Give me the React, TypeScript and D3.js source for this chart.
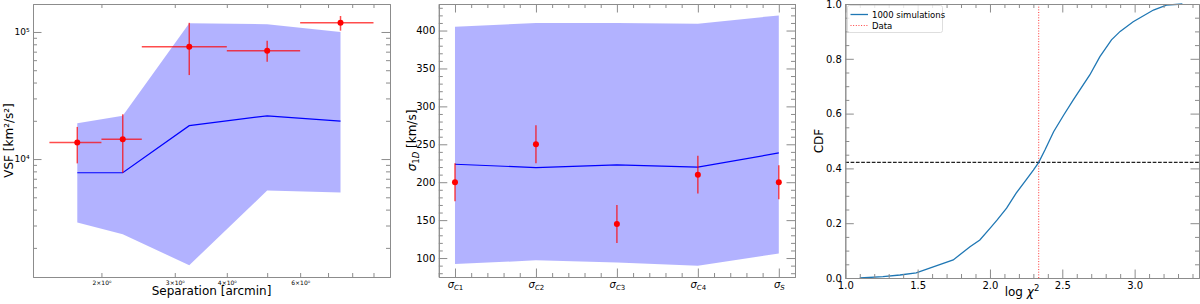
import React, { useEffect, useRef } from 'react';
import * as d3 from 'd3';

// --- panel 1: velocity structure function ---
const sepCenters = [1.75, 2.25, 3.25, 5.0, 7.5];
const sepLo = [1.5, 2.0, 2.5, 4.0, 6.0];
const sepHi = [2.0, 2.5, 4.0, 6.0, 9.0];
const vsfObs = [13500, 14300, 76600, 71200, 118000];
const vsfObsLo = [9250, 7800, 45800, 58400, 102400];
const vsfObsHi = [17900, 22500, 118000, 85400, 133600];
const vsfSimMed = [7800, 7800, 18300, 21900, 19900];
const vsfSimLo = [3170, 2560, 1460, 5650, 5450];
const vsfSimHi = [19100, 21900, 117000, 115000, 99800];
const sepTickLabels = [2, 3, 4, 6];

// --- panel 2: 1D velocity dispersion ---
const sigmaNames = ['C1', 'C2', 'C3', 'C4', 'S'];
const sigmaObs = [200, 250, 145, 210, 200];
const sigmaObsLo = [175, 225, 120, 185, 177.5];
const sigmaObsHi = [225, 275, 170, 235, 222.5];
const sigmaSimMed = [223.7, 219.3, 222.8, 219.8, 238.6];
const sigmaSimLo = [92, 97, 94, 90, 106];
const sigmaSimHi = [405, 410, 410, 409, 420];

// --- panel 3: CDF of log chi^2 ---
const cdfX = [1.1, 1.26, 1.378, 1.49, 1.608, 1.746, 1.862, 1.93, 2.0, 2.05, 2.115, 2.18, 2.25, 2.3, 2.337,
  2.38, 2.44, 2.51, 2.576, 2.69, 2.76, 2.84, 2.9, 2.99, 3.13, 3.22, 3.33];
const cdfY = [0, 0.005, 0.011, 0.019, 0.041, 0.066, 0.114, 0.139, 0.181, 0.212, 0.255, 0.309, 0.358, 0.394, 0.422,
  0.467, 0.534, 0.595, 0.65, 0.741, 0.808, 0.869, 0.9, 0.935, 0.978, 0.996, 1.0];
const dataLogChi2 = 2.337;
const dataCdf = 0.422;

const FONT = 'DejaVu Sans';
const SPINE = '#8c8c8c';

type Sel = d3.Selection<SVGSVGElement, unknown, null, undefined>;

// boxed frame with inward ticks on all four sides
function frame(
  svg: Sel,
  x: any,
  y: any,
  o: {
    xMaj: number[]; xMin: number[]; yMaj: number[]; yMin: number[];
    xFmt: (d: any) => string; yFmt: (d: any) => string; xFs: number; yFs: number;
    xMajLen?: number;
  }
) {
  const [x0, x1] = x.range();
  const [y0, y1] = y.range();
  const maj = 8.5;
  const xMaj = o.xMajLen ?? maj;
  const add = (axis: any, tr: string, vals: number[], len: number, fmt: any, fs: number) => {
    const g = svg
      .append('g')
      .attr('transform', tr)
      .call(axis.tickValues(vals).tickSizeInner(-len).tickSizeOuter(0).tickPadding(3.5).tickFormat(fmt));
    g.attr('font-family', FONT).attr('font-size', fs);
    g.select('.domain').attr('stroke', SPINE).attr('stroke-width', 1);
    g.selectAll('line').attr('stroke', SPINE).attr('stroke-width', 1);
    g.selectAll('text').attr('fill', '#000');
    return g;
  };
  const none = () => '';
  const bx = add(d3.axisBottom(x), `translate(0,${y0})`, o.xMaj, xMaj, o.xFmt, o.xFs);
  add(d3.axisBottom(x), `translate(0,${y0})`, o.xMin, 4, none, o.xFs);
  add(d3.axisTop(x), `translate(0,${y1})`, o.xMaj, xMaj, none, o.xFs);
  add(d3.axisTop(x), `translate(0,${y1})`, o.xMin, 4, none, o.xFs);
  const ly = add(d3.axisLeft(y), `translate(${x0},0)`, o.yMaj, maj, o.yFmt, o.yFs);
  add(d3.axisLeft(y), `translate(${x0},0)`, o.yMin, 4, none, o.yFs);
  add(d3.axisRight(y), `translate(${x1},0)`, o.yMaj, maj, none, o.yFs);
  add(d3.axisRight(y), `translate(${x1},0)`, o.yMin, 4, none, o.yFs);
  return { bx, ly };
}

const App: React.FC = () => {
  const svgRef = useRef<SVGSVGElement>(null);

  useEffect(() => {
    if (!svgRef.current) return;
    const svg = d3.select(svgRef.current);
    svg.selectAll('*').remove();

    const errColor = 'red';
    const errOpacity = 0.7;

    // ================= panel 1 =================
    const x1 = d3.scaleLog().domain([1.37, 9.86]).range([33, 390]);
    const y1 = d3.scaleLog().domain([1180, 166000]).range([277, 4]);
    const idx = d3.range(sepCenters.length);

    svg
      .append('path')
      .datum(idx)
      .attr('fill', 'blue')
      .attr('fill-opacity', 0.3)
      .attr(
        'd',
        d3
          .area<number>()
          .x((i) => x1(sepCenters[i]))
          .y0((i) => y1(vsfSimLo[i]))
          .y1((i) => y1(vsfSimHi[i]))
      );
    svg
      .append('path')
      .datum(idx)
      .attr('fill', 'none')
      .attr('stroke', 'blue')
      .attr('stroke-width', 1.2)
      .attr(
        'd',
        d3
          .line<number>()
          .x((i) => x1(sepCenters[i]))
          .y((i) => y1(vsfSimMed[i]))
      );
    const e1 = svg.append('g').attr('stroke', errColor).attr('stroke-opacity', errOpacity).attr('stroke-width', 1.5);
    idx.forEach((i) => {
      e1.append('line')
        .attr('x1', x1(sepLo[i])).attr('x2', x1(sepHi[i]))
        .attr('y1', y1(vsfObs[i])).attr('y2', y1(vsfObs[i]));
      e1.append('line')
        .attr('x1', x1(sepCenters[i])).attr('x2', x1(sepCenters[i]))
        .attr('y1', y1(vsfObsLo[i])).attr('y2', y1(vsfObsHi[i]));
    });
    svg
      .append('g')
      .selectAll('circle')
      .data(idx)
      .enter()
      .append('circle')
      .attr('cx', (i) => x1(sepCenters[i]))
      .attr('cy', (i) => y1(vsfObs[i]))
      .attr('r', 3)
      .attr('fill', 'red');

    const yMin1: number[] = [];
    [1000, 10000, 100000].forEach((dec) => {
      for (let k = 2; k <= 9; k++) {
        const v = dec * k;
        if (v > 1180 && v < 166000) yMin1.push(v);
      }
    });
    const sup: Record<string, string> = { '0': '⁰', '4': '⁴', '5': '⁵' };
    frame(svg, x1, y1, {
      xMaj: sepTickLabels,
      xMin: [5, 7, 8, 9],
      yMaj: [10000, 100000],
      yMin: yMin1,
      xFmt: (d) => `${d}×10${sup['0']}`,
      yFmt: (d) => `10${sup[String(Math.round(Math.log10(d)))]}`,
      xFs: 6,
      yFs: 9,
      xMajLen: 4,
    });

    svg
      .append('text')
      .attr('transform', 'translate(12.5,140.5) rotate(-90)')
      .attr('text-anchor', 'middle')
      .attr('font-family', FONT)
      .attr('font-size', 12)
      .text('VSF [km²/s²]');
    svg
      .append('text')
      .attr('x', 211.5)
      .attr('y', 295)
      .attr('text-anchor', 'middle')
      .attr('font-family', FONT)
      .attr('font-size', 12)
      .text('Separation [arcmin]');

    // ================= panel 2 =================
    const x2 = d3.scaleLinear().domain([-0.2, 4.2]).range([438.8, 795]);
    const y2 = d3.scaleLinear().domain([75, 435]).range([277, 4]);
    const idx2 = d3.range(sigmaNames.length);

    svg
      .append('path')
      .datum(idx2)
      .attr('fill', 'blue')
      .attr('fill-opacity', 0.3)
      .attr(
        'd',
        d3
          .area<number>()
          .x((i) => x2(i))
          .y0((i) => y2(sigmaSimLo[i]))
          .y1((i) => y2(sigmaSimHi[i]))
      );
    svg
      .append('path')
      .datum(idx2)
      .attr('fill', 'none')
      .attr('stroke', 'blue')
      .attr('stroke-width', 1.2)
      .attr(
        'd',
        d3
          .line<number>()
          .x((i) => x2(i))
          .y((i) => y2(sigmaSimMed[i]))
      );
    const e2 = svg.append('g').attr('stroke', errColor).attr('stroke-opacity', errOpacity).attr('stroke-width', 1.5);
    idx2.forEach((i) => {
      e2.append('line')
        .attr('x1', x2(i)).attr('x2', x2(i))
        .attr('y1', y2(sigmaObsLo[i])).attr('y2', y2(sigmaObsHi[i]));
    });
    svg
      .append('g')
      .selectAll('circle')
      .data(idx2)
      .enter()
      .append('circle')
      .attr('cx', (i) => x2(i))
      .attr('cy', (i) => y2(sigmaObs[i]))
      .attr('r', 3)
      .attr('fill', 'red');

    const xMin2 = d3.range(-0.2, 4.21, 0.2).map((v) => Math.round(v * 10) / 10).filter((v) => !Number.isInteger(v));
    const yMin2 = d3.range(80, 431, 10).filter((v) => v % 50 !== 0);
    const f2 = frame(svg, x2, y2, {
      xMaj: idx2,
      xMin: xMin2,
      yMaj: [100, 150, 200, 250, 300, 350, 400],
      yMin: yMin2,
      xFmt: (d) => sigmaNames[d],
      yFmt: (d) => String(d),
      xFs: 10,
      yFs: 10,
    });
    f2.bx.selectAll<SVGTextElement, number>('text').each(function (d) {
      const t = d3.select(this);
      t.text(null);
      t.append('tspan').attr('font-style', 'italic').text('σ');
      const sub = sigmaNames[d];
      sub.split('').forEach((ch, k) => {
        const sp = t.append('tspan').attr('font-size', 7).text(ch);
        if (k === 0) sp.attr('dy', 2);
        if (/[A-Z]/.test(ch)) sp.attr('font-style', 'italic');
      });
    });

    const l2 = svg
      .append('text')
      .attr('transform', 'translate(416,140.5) rotate(-90)')
      .attr('text-anchor', 'middle')
      .attr('font-family', FONT)
      .attr('font-size', 12);
    l2.append('tspan').attr('font-style', 'italic').text('σ');
    l2.append('tspan').attr('font-size', 8.5).attr('dy', 2.5).text('1');
    l2.append('tspan').attr('font-size', 8.5).attr('font-style', 'italic').text('D');
    l2.append('tspan').attr('dy', -2.5).text(' [km/s]');

    // ================= panel 3 =================
    const x3 = d3.scaleLinear().domain([1.0, 3.445]).range([845.3, 1199]);
    const y3 = d3.scaleLinear().domain([0, 1]).range([278, 4]);

    svg
      .append('line')
      .attr('x1', x3(1.0)).attr('x2', x3(3.445))
      .attr('y1', y3(dataCdf)).attr('y2', y3(dataCdf))
      .attr('stroke', '#222')
      .attr('stroke-width', 1.1)
      .attr('stroke-dasharray', '3.7,1.6');
    svg
      .append('line')
      .attr('x1', x3(dataLogChi2)).attr('x2', x3(dataLogChi2))
      .attr('y1', y3(0)).attr('y2', y3(1))
      .attr('stroke', 'red')
      .attr('stroke-opacity', 0.8)
      .attr('stroke-width', 1)
      .attr('stroke-dasharray', '1,1.65');
    svg
      .append('path')
      .datum(d3.range(cdfX.length))
      .attr('fill', 'none')
      .attr('stroke', '#1f77b4')
      .attr('stroke-width', 1.3)
      .attr(
        'd',
        d3
          .line<number>()
          .x((i) => x3(cdfX[i]))
          .y((i) => y3(cdfY[i]))
      );

    const xMaj3 = [1.0, 1.5, 2.0, 2.5, 3.0];
    const xMin3 = d3.range(11, 35).map((v) => v / 10).filter((v) => Math.round(v * 10) % 5 !== 0);
    const yMin3 = d3.range(1, 20).map((v) => v / 20).filter((v) => Math.round(v * 20) % 4 !== 0);
    frame(svg, x3, y3, {
      xMaj: xMaj3,
      xMin: xMin3,
      yMaj: [0, 0.2, 0.4, 0.6, 0.8, 1.0],
      yMin: yMin3,
      xFmt: (d) => d3.format('.1f')(d),
      yFmt: (d) => d3.format('.1f')(d),
      xFs: 10,
      yFs: 10,
    });

    svg
      .append('text')
      .attr('transform', 'translate(822.5,141) rotate(-90)')
      .attr('text-anchor', 'middle')
      .attr('font-family', FONT)
      .attr('font-size', 12)
      .text('CDF');
    const l3 = svg
      .append('text')
      .attr('x', 1022)
      .attr('y', 296)
      .attr('text-anchor', 'middle')
      .attr('font-family', FONT)
      .attr('font-size', 12);
    l3.append('tspan').text('log ');
    l3.append('tspan').attr('font-style', 'italic').text('χ');
    l3.append('tspan').attr('font-size', 8.5).attr('dy', -5).text('2');

    // legend
    const lg = svg.append('g').attr('font-family', FONT).attr('font-size', 8.5);
    lg.append('rect')
      .attr('x', 847.5).attr('y', 5.5).attr('width', 95).attr('height', 27).attr('rx', 2)
      .attr('fill', 'white').attr('fill-opacity', 0.8).attr('stroke', '#d6d6d6').attr('stroke-width', 0.8);
    lg.append('line')
      .attr('x1', 850.5).attr('x2', 868).attr('y1', 14.5).attr('y2', 14.5)
      .attr('stroke', '#1f77b4').attr('stroke-width', 1.3);
    lg.append('line')
      .attr('x1', 850.5).attr('x2', 868).attr('y1', 25.5).attr('y2', 25.5)
      .attr('stroke', '#ff4040').attr('stroke-width', 1).attr('stroke-dasharray', '1,1.65');
    lg.append('text').attr('x', 872).attr('y', 17.5).text('1000 simulations');
    lg.append('text').attr('x', 872).attr('y', 28.5).text('Data');
  }, []);

  return (
    <svg
      ref={svgRef}
      width={1200}
      height={304}
      style={{ position: 'absolute', left: 0, top: 0, background: 'white' }}
    />
  );
};

export default App;
